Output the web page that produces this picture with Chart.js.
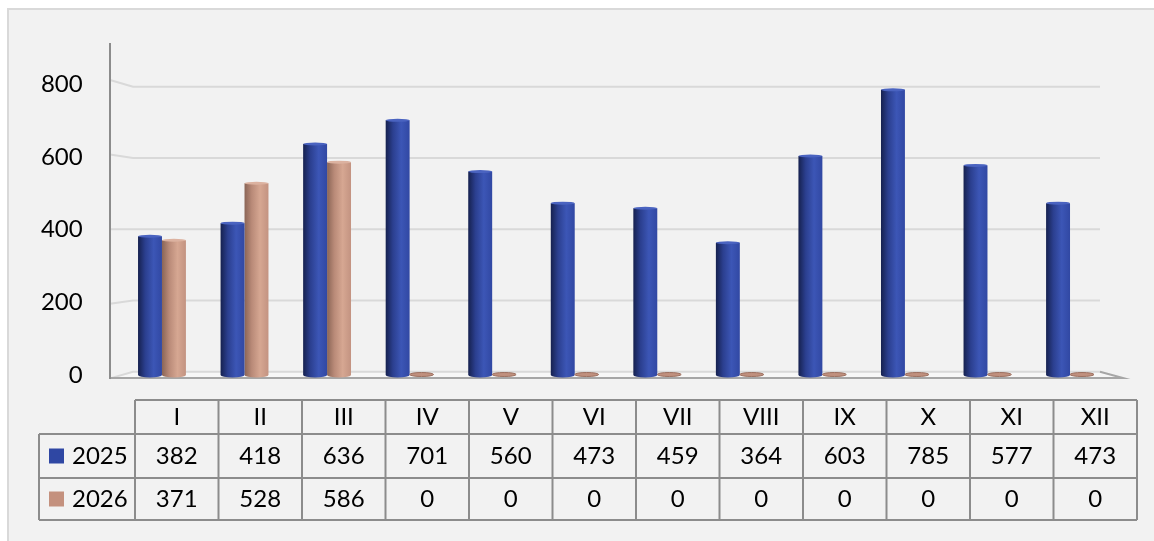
<!DOCTYPE html>
<html>
<head>
<meta charset="utf-8">
<script src="https://cdn.jsdelivr.net/npm/chart.js@4.4.1/dist/chart.umd.min.js"></script>
<style>
  html, body { margin: 0; padding: 0; background: #fff; }
  #wrap { width: 1154px; height: 541px; }
</style>
</head>
<body>
<div id="wrap"><canvas id="chart" width="1154" height="541"></canvas></div>
<script>
// ================= DATA =================
const months = ["I", "II", "III", "IV", "V", "VI", "VII", "VIII", "IX", "X", "XI", "XII"];
const seriesNames = ["2025", "2026"];
const values2025 = [382, 418, 636, 701, 560, 473, 459, 364, 603, 785, 577, 473];
const values2026 = [371, 528, 586, 0, 0, 0, 0, 0, 0, 0, 0, 0];
const yTicks = [0, 200, 400, 600, 800];

const FONT = "Lato, 'Open Sans', sans-serif";
const swatch = ["#2f47a3", "#c4917e"];
const shades = [
  ["#16214f", "#2b3f8f", "#3c56b6", "#3148a3"],
  ["#8a6556", "#b98a78", "#d6a792", "#c39381"]
];

// ---- cylinder gradient for each bar, from the x scale ----
function cylinder(ctx) {
  const chart = ctx.chart;
  const x = chart.scales.x;
  const s = shades[ctx.datasetIndex];
  if (!x || !x.width) return s[2];
  const cat = x.width / months.length;
  const w = cat * 0.58 / 2;
  const cx = x.getPixelForValue(ctx.dataIndex);
  const left = ctx.datasetIndex === 0 ? cx - w : cx;
  const g = chart.ctx.createLinearGradient(left, 0, left + w, 0);
  g.addColorStop(0, s[0]);
  g.addColorStop(0.3, s[1]);
  g.addColorStop(0.65, s[2]);
  g.addColorStop(1, s[3]);
  return g;
}

// ================= TABLE GEOMETRY =================
const tbl = { x0: 39, x1: 135, colW: 83.5, top: 400, r1: 434, r2: 478, bottom: 520 };

const decor = {
  id: "decor",
  beforeDraw(chart) {
    const c = chart.ctx;
    c.save();
    c.fillStyle = "#fff";
    c.fillRect(0, 0, chart.width, chart.height);
    c.fillStyle = "#f2f2f2";
    c.fillRect(8, 9, 1200, 600);
    c.strokeStyle = "#d9d9d9";
    c.lineWidth = 2;
    c.strokeRect(8, 9, 1200, 600);
    c.restore();
  },
  beforeDatasetsDraw(chart) {
    const c = chart.ctx;
    const y = chart.scales.y;
    const base = y.getPixelForValue(0);
    const k = 285 / 290.6;
    const backY = v => 371.7 + (y.getPixelForValue(v) - base) * k;
    c.save();
    // floor
    c.fillStyle = "#f7f7f7";
    c.beginPath();
    c.moveTo(110, 377.5); c.lineTo(133, backY(0));
    c.lineTo(1100, backY(0)); c.lineTo(1123, 378); c.closePath();
    c.fill();
    // back wall grid lines with perspective left part
    c.strokeStyle = "#d9d9d9";
    c.lineWidth = 2;
    yTicks.forEach(v => {
      const yb = backY(v);
      const yl = yb + (yb - 229) * 0.047;
      c.beginPath();
      c.moveTo(110, yl); c.lineTo(133, yb); c.lineTo(1100, yb);
      c.stroke();
    });
    // floor edges
    c.strokeStyle = "#a6a6a6";
    c.beginPath();
    c.moveTo(110, 378); c.lineTo(1123, 378); c.lineTo(1100, backY(0));
    c.stroke();
    // vertical axis
    c.strokeStyle = "#8c8c8c";
    c.beginPath();
    c.moveTo(110, 43); c.lineTo(110, 379);
    c.stroke();
    c.restore();
  },
  afterDatasetsDraw(chart) {
    const c = chart.ctx;
    c.save();
    chart.data.datasets.forEach((ds, di) => {
      chart.getDatasetMeta(di).data.forEach((el, i) => {
        const w = el.width / 2;
        if (ds.data[i] === 0) {
          c.fillStyle = "#c0907e";
          c.strokeStyle = "#9c7060";
          c.lineWidth = 1;
          c.beginPath();
          c.ellipse(el.x, el.base - 0.5, w, 2, 0, 0, Math.PI * 2);
          c.fill();
          c.stroke();
        } else {
          // rounded bottom of the cylinder
          c.fillStyle = cylinder({ chart, datasetIndex: di, dataIndex: i });
          c.beginPath();
          c.ellipse(el.x, el.base, w, 2.5, 0, 0, Math.PI);
          c.fill();
          // top cap
          c.fillStyle = di === 0 ? "#4a63c0" : "#dcb2a0";
          c.beginPath();
          c.ellipse(el.x, el.y, w, 1.5, 0, 0, Math.PI * 2);
          c.fill();
        }
      });
    });
    c.restore();
  },
  afterDraw(chart) {
    const c = chart.ctx;
    const right = tbl.x1 + tbl.colW * months.length;
    c.save();
    c.strokeStyle = "#8c8c8c";
    c.lineWidth = 2;
    c.beginPath();
    // horizontal lines
    c.moveTo(tbl.x1, tbl.top); c.lineTo(right, tbl.top);
    [tbl.r1, tbl.r2, tbl.bottom].forEach(yy => { c.moveTo(tbl.x0, yy); c.lineTo(right, yy); });
    // vertical lines
    c.moveTo(tbl.x0, tbl.r1); c.lineTo(tbl.x0, tbl.bottom);
    for (let i = 0; i <= months.length; i++) {
      const xx = tbl.x1 + tbl.colW * i;
      c.moveTo(xx, tbl.top); c.lineTo(xx, tbl.bottom);
    }
    c.stroke();

    c.fillStyle = "#000";
    c.font = "24px " + FONT;
    c.textAlign = "center";
    c.textBaseline = "middle";
    const rowsY = [(tbl.top + tbl.r1) / 2, (tbl.r1 + tbl.r2) / 2, (tbl.r2 + tbl.bottom) / 2];
    months.forEach((m, i) => {
      const cx = tbl.x1 + tbl.colW * (i + 0.5);
      c.fillText(m, cx, rowsY[0]);
      c.fillText(String(values2025[i]), cx, rowsY[1]);
      c.fillText(String(values2026[i]), cx, rowsY[2]);
    });
    // legend keys
    c.textAlign = "left";
    seriesNames.forEach((name, i) => {
      const yy = rowsY[i + 1];
      c.fillStyle = swatch[i];
      c.fillRect(49, yy - 7.5, 15, 15);
      c.fillStyle = "#000";
      c.fillText(name, 72, yy);
    });
    c.restore();
  }
};

// ================= CHART =================
new Chart(document.getElementById("chart"), {
  type: "bar",
  data: {
    labels: months,
    datasets: [
      { label: seriesNames[0], data: values2025, backgroundColor: cylinder },
      { label: seriesNames[1], data: values2026, backgroundColor: cylinder }
    ]
  },
  options: {
    responsive: false,
    animation: false,
    devicePixelRatio: 1,
    layout: { padding: { left: 40.7, right: 42.7, top: 84.4, bottom: 166 } },
    datasets: { bar: { barPercentage: 1, categoryPercentage: 0.58, borderWidth: 0 } },
    plugins: { legend: { display: false }, tooltip: { enabled: false } },
    scales: {
      x: { display: false },
      y: {
        min: 0,
        max: 800,
        afterFit(scale) { scale.width = 80; },
        border: { display: false },
        grid: { display: false, drawTicks: false },
        ticks: { stepSize: 200, padding: 38, color: "#000", font: { family: FONT, size: 24 } }
      }
    }
  },
  plugins: [decor]
});
</script>
</body>
</html>
